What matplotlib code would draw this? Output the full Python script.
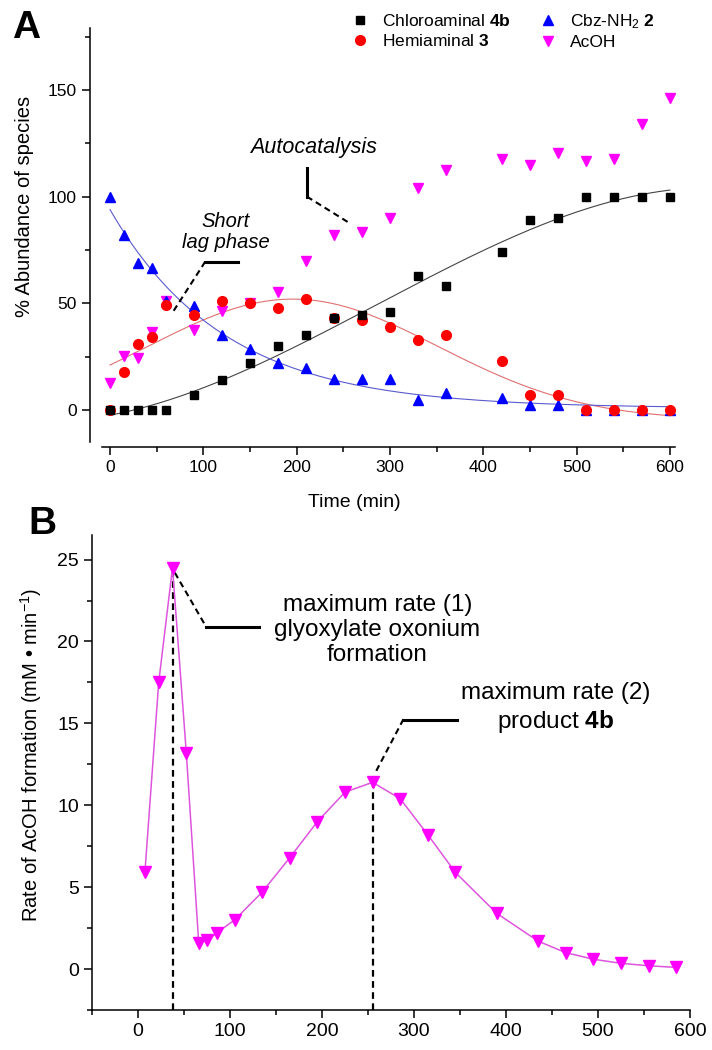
import numpy as np
import matplotlib
matplotlib.use("Agg")
import matplotlib.pyplot as plt
from matplotlib.ticker import MultipleLocator

plt.rcParams['font.family'] = ['Liberation Sans', 'DejaVu Sans']
plt.rcParams['mathtext.fontset'] = 'custom'
plt.rcParams['mathtext.rm'] = 'Liberation Sans'
plt.rcParams['mathtext.bf'] = 'Liberation Sans:bold'
plt.rcParams['mathtext.it'] = 'Liberation Sans:italic'

# panel A - % abundance of species vs time (min)
time_a = [0, 15, 30, 45, 60, 90, 120, 150, 180, 210, 240, 270, 300, 330, 360,
          420, 450, 480, 510, 540, 570, 600]
chloroaminal = [0, 0, 0, 0, 0, 7, 14, 22, 30, 35, 43, 44.5, 46, 63, 58,
                74, 89, 90, 100, 100, 100, 100]
hemiaminal = [0, 18, 31, 34, 49, 44.5, 51, 50, 48, 52, 43, 42, 39, 33, 35,
              23, 7, 7, 0, 0, 0, 0]
cbz_nh2 = [100, 82, 69, 66.5, 51, 48.5, 35, 28.5, 22, 19.5, 14.5, 14.5, 14.5, 4.5, 8,
           5.5, 2.5, 2.5, 0, 0, 0, 0]
acoh = [12.5, 25.5, 24.5, 36.5, 51, 37.5, 46.5, 50, 55.5, 70, 82, 83.5, 90, 104, 112.5,
        117.5, 115, 120.5, 116.5, 117.5, 134, 146]

# panel B - rate of AcOH formation
rate_t = [7.5, 22.5, 37.5, 52.5, 66, 75.5, 85.5, 105, 135, 165, 195, 225, 255, 285,
          315, 345, 390, 435, 465, 495, 525, 555, 585]
rate = [5.9, 17.5, 24.5, 13.2, 1.6, 1.75, 2.2, 3.0, 4.7, 6.8, 9.0, 10.8, 11.4, 10.4,
        8.2, 5.9, 3.4, 1.7, 1.0, 0.6, 0.35, 0.2, 0.1]


def lin_fit(basis, y):
    # least squares amplitude + offset for a given shape
    M = np.column_stack([basis, np.ones_like(basis)])
    coef, res, *_ = np.linalg.lstsq(M, y, rcond=None)
    err = np.sum((M @ coef - y)**2)
    return coef, err


fig = plt.figure(figsize=(7.12, 10.5), dpi=100)

# ---------------- panel A ----------------
ax = fig.add_axes([102/712, 1-442/1050, 573/712, 414/1050])
ax.set_xlim(-8.6, 605.5)
ax.set_ylim(-15, 179)

# fitted curves (least squares on the measured points)
t = np.array(time_a, float)
tf = np.linspace(0, 600, 300)
black_fit = np.polyval(np.polyfit(t, chloroaminal, 3), tf)

yr = np.array(hemiaminal, float)
best = None
for xc in np.arange(120, 280, 2.0):
    for w in np.arange(80, 260, 2.0):
        coef, err = lin_fit(np.exp(-(t - xc)**2 / (2*w*w)), yr)
        if best is None or err < best[0]:
            best = (err, xc, w, coef)
_, xc, w, (amp, off) = best
red_fit = amp*np.exp(-(tf - xc)**2 / (2*w*w)) + off

yb = np.array(cbz_nh2, float)
best = None
for k in np.linspace(40, 300, 521):
    coef, err = lin_fit(np.exp(-t / k), yb)
    if best is None or err < best[0]:
        best = (err, k, coef)
_, k, (amp, off) = best
blue_fit = amp*np.exp(-tf / k) + off

ax.plot(tf, black_fit, color='#444444', lw=0.8, zorder=2)
ax.plot(tf, red_fit, color='#e07070', lw=0.8, zorder=2)
ax.plot(tf, blue_fit, color='#5a5ad0', lw=0.8, zorder=2)

ax.plot(time_a, acoh, 'v', color='#ff00ff', ms=7.5, ls='none', label='AcOH', zorder=3)
ax.plot(time_a, cbz_nh2, '^', color='#0000ff', ms=7.5, ls='none', label='Cbz-NH$_2$ $\\mathbf{2}$', zorder=3)
ax.plot(time_a, hemiaminal, 'o', color='#ff0000', ms=7, ls='none', label='Hemiaminal $\\mathbf{3}$', zorder=3)
ax.plot(time_a, chloroaminal, 's', color='#000000', ms=6, ls='none', label='Chloroaminal $\\mathbf{4b}$', zorder=3)

h, l = ax.get_legend_handles_labels()
order = [3, 2, 1, 0]
ax.legend([h[i] for i in order], [l[i] for i in order], ncol=2, frameon=False,
          loc='upper left', bbox_to_anchor=(351/712, 1-12/1050), bbox_transform=fig.transFigure,
          borderaxespad=0, borderpad=0, handlelength=1.0, handletextpad=0.8,
          columnspacing=1.6, labelspacing=0.25, numpoints=1, fontsize=12.5)

# annotations
ax.text(218, 123, 'Autocatalysis', style='italic', fontsize=15.5, ha='center', va='center')
ax.plot([211, 211], [113.5, 100], color='k', lw=2.2)
ax.plot([211, 257], [100, 87.5], color='k', lw=1.5, ls=(0, (3, 2)))
ax.text(124, 83.5, 'Short\nlag phase', style='italic', fontsize=14.5, ha='center', va='center',
        linespacing=1.15)
ax.plot([102, 137], [69.5, 69.5], color='k', lw=2.2)
ax.plot([102, 67.5], [69.5, 46], color='k', lw=1.5, ls=(0, (3, 2)))

ax.spines['top'].set_visible(False)
ax.spines['right'].set_visible(False)
ax.spines['left'].set_position(('outward', 12*0.72))
ax.spines['bottom'].set_position(('outward', 5*0.72))
for s in ('left', 'bottom'):
    ax.spines[s].set_linewidth(1.1)
ax.xaxis.set_major_locator(MultipleLocator(100))
ax.xaxis.set_minor_locator(MultipleLocator(50))
ax.yaxis.set_major_locator(MultipleLocator(50))
ax.yaxis.set_minor_locator(MultipleLocator(25))
ax.tick_params(which='major', direction='out', length=6, width=1.1, labelsize=12.5)
ax.tick_params(which='minor', direction='out', length=3.5, width=1.1)
ax.set_xlabel('Time (min)', fontsize=14)
ax.xaxis.set_label_coords(0.44, -0.125)
ax.set_ylabel('% Abundance of species', fontsize=14.5)
ax.yaxis.set_label_coords(-0.118, 0.568)

fig.text(12/712, 1-38/1050, 'A', fontsize=28, fontweight='bold', ha='left', va='baseline')

# ---------------- panel B ----------------
bx = fig.add_axes([92/712, 1-1010/1050, 598/712, 475/1050])
bx.set_xlim(-50, 600)
bx.set_ylim(-2.5, 26.5)

rt = np.array(rate_t)
rv = np.array(rate)
i1 = int(np.argmax(rv))
late = rt > 100
i2 = int(np.flatnonzero(late)[np.argmax(rv[late])])
bx.vlines([rt[i1], rt[i2]], -2.5, [rv[i1], rv[i2]], colors='k', lw=1.6,
          linestyles=[(0, (3, 2)), (0, (3, 2))], zorder=1)

bx.plot(rate_t, rate, color='#dd55dd', lw=1.1, marker='v', mfc='#ff00ff', mec='#ff00ff',
        ms=8.5, zorder=3)

bx.plot([40, 74], [24.2, 20.9], color='k', lw=1.5, ls=(0, (3, 2)))
bx.plot([74, 131], [20.9, 20.9], color='k', lw=2.2)
bx.text(260, 20.7, 'maximum rate (1)\nglyoxylate oxonium\nformation', fontsize=17.5,
        ha='center', va='center', multialignment='center')
bx.plot([259, 288], [12.1, 15.2], color='k', lw=1.5, ls=(0, (3, 2)))
bx.plot([288, 347], [15.2, 15.2], color='k', lw=2.2)
bx.text(454, 15.9, 'maximum rate (2)\nproduct $\\mathbf{4b}$', fontsize=17.5,
        ha='center', va='center', multialignment='center')

bx.spines['top'].set_visible(False)
bx.spines['right'].set_visible(False)
for s in ('left', 'bottom'):
    bx.spines[s].set_linewidth(1.1)
bx.xaxis.set_major_locator(MultipleLocator(100))
bx.xaxis.set_minor_locator(MultipleLocator(50))
bx.yaxis.set_major_locator(MultipleLocator(5))
bx.yaxis.set_minor_locator(MultipleLocator(2.5))
bx.tick_params(which='major', direction='out', length=6, width=1.1, labelsize=14)
bx.tick_params(which='minor', direction='out', length=3.5, width=1.1)
bx.set_ylabel('Rate of AcOH formation (mM • min$^{-1}$)', fontsize=14.5)
bx.yaxis.set_label_coords(-0.08, 0.537)

fig.text(28/712, 1-534/1050, 'B', fontsize=28, fontweight='bold', ha='left', va='baseline')

fig.savefig('out.png', dpi=100)
